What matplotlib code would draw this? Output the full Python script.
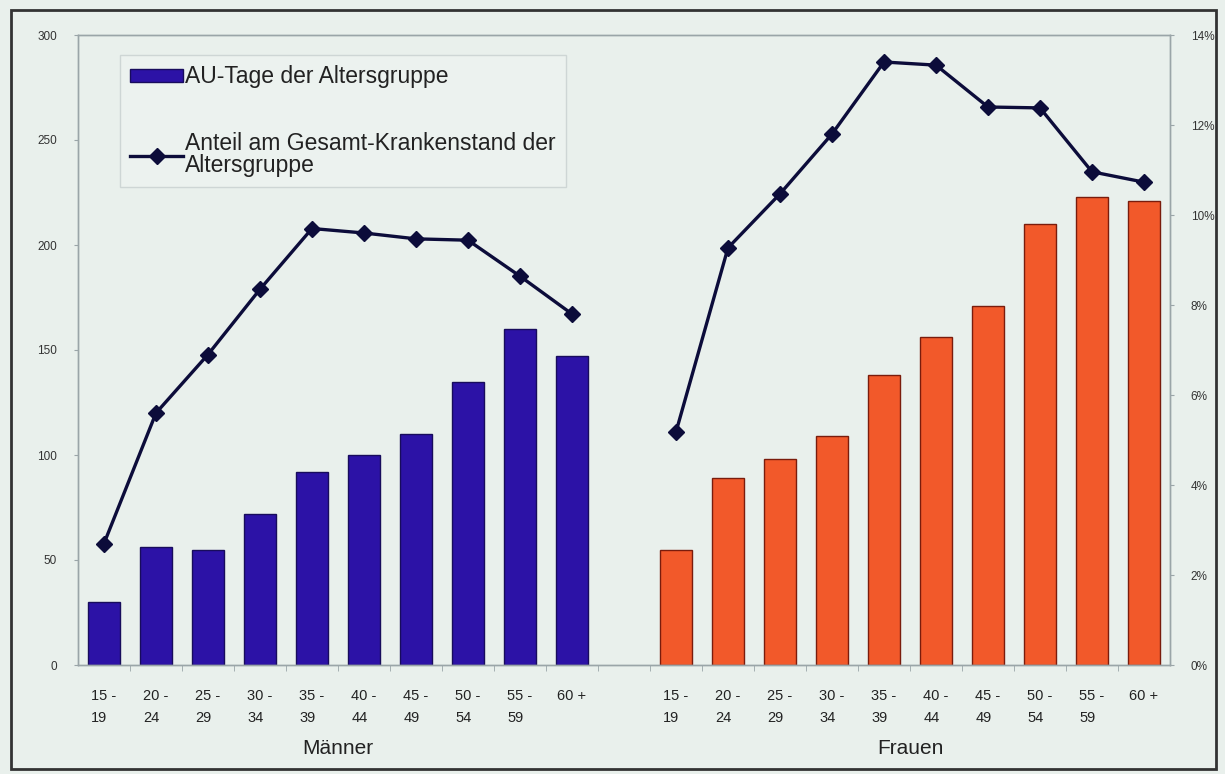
import numpy as np
import matplotlib
matplotlib.use("Agg")
import matplotlib.pyplot as plt
from matplotlib.patches import Rectangle
from matplotlib.ticker import FuncFormatter, FixedLocator

# age groups, same for both sexes
age_groups = ["15 -\n19", "20 -\n24", "25 -\n29", "30 -\n34", "35 -\n39",
              "40 -\n44", "45 -\n49", "50 -\n54", "55 -\n59", "60 +\n "]

# AU-Tage der Altersgruppe (left axis)
days_men = [30, 56, 55, 72, 92, 100, 110, 135, 160, 147]
days_women = [55, 89, 98, 109, 138, 156, 171, 210, 223, 221]

# Anteil am Gesamt-Krankenstand in % (right axis)
share_men = [2.7, 5.6, 6.9, 8.35, 9.7, 9.6, 9.47, 9.44, 8.64, 7.8]
share_women = [5.18, 9.27, 10.47, 11.8, 13.4, 13.33, 12.4, 12.38, 10.96, 10.73]

bg = "#e9f0ec"
plt.rcParams['font.family'] = ['Liberation Sans', 'DejaVu Sans']

fig = plt.figure(figsize=(12.25, 7.74), dpi=100, facecolor=bg)
ax = fig.add_axes([78 / 1225, 1 - 665 / 774, (1170 - 78) / 1225, (665 - 35) / 774])
ax.set_facecolor(bg)

n = len(age_groups)
x_men = np.arange(n)
x_women = np.arange(n) + n + 1

bars = ax.bar(x_men, days_men, width=0.62, color="#2c12a6", edgecolor="#180c5c",
              linewidth=1.0, label="AU-Tage der Altersgruppe", zorder=2)
ax.bar(x_women, days_women, width=0.62, color="#f2592a", edgecolor="#7a1c0c",
       linewidth=1.0, zorder=2)

ax.set_xlim(-0.5, 2 * n + 0.5)
ax.set_ylim(0, 300)
ax.set_yticks(np.arange(0, 301, 50))

ax2 = ax.twinx()
line, = ax2.plot(x_men, share_men, color="#0c0c3a", lw=2.4, marker="D", ms=8,
                 label="Anteil am Gesamt-Krankenstand der\nAltersgruppe", zorder=3)
ax2.plot(x_women, share_women, color="#0c0c3a", lw=2.4, marker="D", ms=8, zorder=3)
ax2.set_ylim(0, 14)
ax2.set_yticks(np.arange(0, 15, 2))
ax2.yaxis.set_major_formatter(FuncFormatter(lambda v, p: "%d%%" % v))

# x ticks: labels under bars, small marks between categories
ax.set_xticks(np.concatenate([x_men, x_women]))
ax.set_xticklabels(age_groups + age_groups, fontsize=10.5, color="#222222",
                   ha="center", multialignment="left", linespacing=1.75)
ax.tick_params(axis="x", which="major", length=0, pad=17)
ax.xaxis.set_minor_locator(FixedLocator(np.arange(0.5, 2 * n, 1)))
ax.tick_params(axis="x", which="minor", length=4, color="#9aa5a8")

ax.tick_params(axis="y", labelsize=8.5, labelcolor="#333333", length=3,
               color="#9aa5a8", pad=12)
ax2.tick_params(axis="y", labelsize=8.5, labelcolor="#333333", length=3,
                color="#9aa5a8", pad=12)

for a in (ax, ax2):
    for s in a.spines.values():
        s.set_color("#9aa5a8")
        s.set_linewidth(1.0)

ax.text((n - 1) / 2, -0.132, "Männer", transform=ax.get_xaxis_transform(),
        ha="center", va="center", fontsize=15, color="#222222")
ax.text(n + 1 + (n - 1) / 2, -0.132, "Frauen", transform=ax.get_xaxis_transform(),
        ha="center", va="center", fontsize=15, color="#222222")

leg = ax2.legend([bars, line], [bars.get_label(), line.get_label()],
                 loc="upper left", bbox_to_anchor=(42 / 1092, 1 - 20 / 630),
                 fontsize=16.5, frameon=True, fancybox=False, handlelength=2.3,
                 handleheight=0.5, handletextpad=0.1, labelspacing=1.9,
                 borderpad=0.45, borderaxespad=0,
                 facecolor="#eef3f0", edgecolor="#c8d0cf")
leg.get_frame().set_linewidth(1.0)
for t in leg.get_texts():
    t.set_color("#222222")
    t.set_linespacing(0.95)

# outer frame around the whole chart
fig.patches.append(Rectangle((11 / 1225, 5 / 774), 1205 / 1225, 759 / 774,
                             transform=fig.transFigure, fill=False,
                             edgecolor="#333333", linewidth=2.0))

fig.savefig("out.png", dpi=100, facecolor=bg)
